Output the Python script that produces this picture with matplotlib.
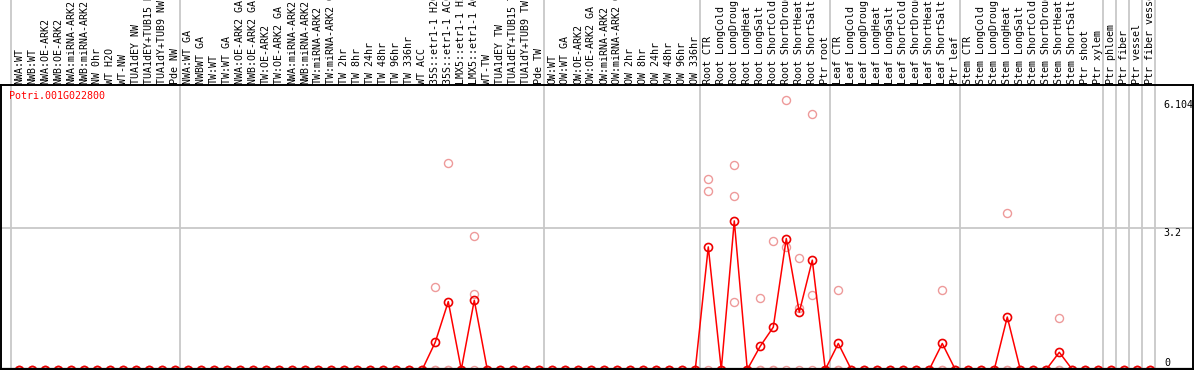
import matplotlib
matplotlib.use("Agg")
import matplotlib.pyplot as plt
import numpy as np

gene = "Potri.001G022800"

categories = [
    # group 1
    "NWA:WT", "NWB:WT", "NWA:OE-ARK2", "NWB:OE-ARK2", "NWA:miRNA-ARK2", "NWB:miRNA-ARK2",
    "NW 0hr", "WT H2O", "WT-NW", "TUA1dEY NW", "TUA1dEY+TUB15 NW", "TUA1dY+TUB9 NW", "Pde NW",
    # group 2
    "NWA:WT GA", "NWBWT GA", "TW:WT", "TW:WT GA", "NWA:OE-ARK2 GA", "NWB:OE-ARK2 GA",
    "TW:OE-ARK2", "TW:OE-ARK2 GA", "NWA:miRNA-ARK2", "NWB:miRNA-ARK2", "TW:miRNA-ARK2",
    "TW:miRNA-ARK2 GA", "TW 2hr", "TW 8hr", "TW 24hr", "TW 48hr", "TW 96hr", "TW 336hr",
    "WT ACC", "35S::etr1-1 H2O", "35S::etr1-1 ACC", "LMX5::etr1-1 H2O", "LMX5::etr1-1 ACC",
    "WT-TW", "TUA1dEY TW", "TUA1dEY+TUB15 TW", "TUA1dY+TUB9 TW", "Pde TW",
    # group 3
    "OW:WT", "OW:WT GA", "OW:OE-ARK2", "OW:OE-ARK2 GA", "OW:miRNA-ARK2", "OW:miRNA-ARK2 GA",
    "OW 2hr", "OW 8hr", "OW 24hr", "OW 48hr", "OW 96hr", "OW 336hr",
    # root
    "Root CTR", "Root LongCold", "Root LongDrought", "Root LongHeat", "Root LongSalt",
    "Root ShortCold", "Root ShortDrought", "Root ShortHeat", "Root ShortSalt", "Ptr root",
    # leaf
    "Leaf CTR", "Leaf LongCold", "Leaf LongDrought", "Leaf LongHeat", "Leaf LongSalt",
    "Leaf ShortCold", "Leaf ShortDrought", "Leaf ShortHeat", "Leaf ShortSalt", "Ptr leaf",
    # stem
    "Stem CTR", "Stem LongCold", "Stem LongDrought", "Stem LongHeat", "Stem LongSalt",
    "Stem ShortCold", "Stem ShortDrought", "Stem ShortHeat", "Stem ShortSalt", "Ptr shoot",
    "Ptr xylem",
    # tissues
    "Ptr phloem", "Ptr fiber", "Ptr vessel", "Ptr fiber vessel",
]

means = [
    0, 0, 0, 0, 0, 0, 0, 0, 0, 0, 0, 0, 0,
    0, 0, 0, 0, 0, 0, 0, 0, 0, 0, 0, 0, 0, 0, 0, 0, 0, 0, 0, 0.62, 1.54, 0, 1.57, 0, 0, 0, 0, 0,
    0, 0, 0, 0, 0, 0, 0, 0, 0, 0, 0, 0,
    2.78, 0, 3.37, 0, 0.53, 0.96, 2.97, 1.30, 2.48, 0,
    0.59, 0, 0, 0, 0, 0, 0, 0, 0.59, 0,
    0, 0, 0, 1.19, 0, 0, 0, 0.39, 0, 0, 0,
    0, 0, 0, 0,
]

rep_a = [
    0, 0, 0, 0, 0, 0, 0, 0, 0, 0, 0, 0, 0,
    0, 0, 0, 0, 0, 0, 0, 0, 0, 0, 0, 0, 0, 0, 0, 0, 0, 0, 0, 1.87, 4.68, 0, 3.02, 0, 0, 0, 0, 0,
    0, 0, 0, 0, 0, 0, 0, 0, 0, 0, 0, 0,
    4.31, 0, 4.63, 0, 1.61, 2.91, 6.104, 2.52, 5.79, 0,
    1.80, 0, 0, 0, 0, 0, 0, 0, 1.80, 0,
    0, 0, 0, 3.56, 0, 0, 0, 1.17, 0, 0, 0,
    0, 0, 0, 0,
]

rep_b = [
    0, 0, 0, 0, 0, 0, 0, 0, 0, 0, 0, 0, 0,
    0, 0, 0, 0, 0, 0, 0, 0, 0, 0, 0, 0, 0, 0, 0, 0, 0, 0, 0, 0, 0, 0, 1.71, 0, 0, 0, 0, 0,
    0, 0, 0, 0, 0, 0, 0, 0, 0, 0, 0, 0,
    4.04, 0, 3.93, 0, 0, 0, 2.78, 1.40, 1.68, 0,
    0, 0, 0, 0, 0, 0, 0, 0, 0, 0,
    0, 0, 0, 0, 0, 0, 0, 0, 0, 0, 0,
    0, 0, 0, 0,
]

rep_c = [
    0, 0, 0, 0, 0, 0, 0, 0, 0, 0, 0, 0, 0,
    0, 0, 0, 0, 0, 0, 0, 0, 0, 0, 0, 0, 0, 0, 0, 0, 0, 0, 0, 0, 0, 0, 0, 0, 0, 0, 0, 0,
    0, 0, 0, 0, 0, 0, 0, 0, 0, 0, 0, 0,
    0, 0, 1.53, 0, 0, 0, 0, 0, 0, 0,
    0, 0, 0, 0, 0, 0, 0, 0, 0, 0,
    0, 0, 0, 0, 0, 0, 0, 0, 0, 0, 0,
    0, 0, 0, 0,
]

group_bounds = [0, 13, 41, 53, 63, 73, 84, 85, 86, 87, 88]
y_max = 6.104
y_mid = 3.2

# ---- layout (pixel geometry) ----
W, H = 1194, 370
fig = plt.figure(figsize=(W / 100, H / 100), dpi=100)
ax = fig.add_axes([0, 0, 1, 1])
ax.set_axis_off()

px_per_cat = 13.0
x_off = 10.7          # pixel x of first group boundary
y_zero_px = 369.5
px_per_unit = 44.1
ax.set_xlim(-x_off / px_per_cat, (W - x_off) / px_per_cat)
ax.set_ylim((y_zero_px - H) / px_per_unit, y_zero_px / px_per_unit)

def vy(py):
    return (y_zero_px - py) / px_per_unit

def ux(px):
    return (px - x_off) / px_per_cat

n = len(categories)
xs = np.arange(n) + 0.66

grey = "#C8C8C8"
for b in group_bounds:
    ax.axvline(b, color=grey, lw=1.3, zorder=1)
ax.axhline(y_mid, color=grey, lw=1.3, zorder=1)

top_line = vy(85)
ax.axhline(top_line, color="black", lw=1.4, zorder=5)
ax.axhline(vy(369.2), color="black", lw=1.6, zorder=5)
ax.plot([ux(1), ux(1)], [vy(369), top_line], color="black", lw=1.4, zorder=5)
ax.plot([ux(1193), ux(1193)], [vy(369), top_line], color="black", lw=1.4, zorder=5)

mono = "DejaVu Sans Mono"
fs = 7.2
for x, lab in zip(xs, categories):
    ax.text(x, vy(84), lab, rotation=90, ha="center", va="bottom",
            fontsize=fs, family=mono, color="black", zorder=6)

# replicates
pink = "#EE9A9A"
for reps in (rep_a, rep_b, rep_c):
    ax.plot(xs, reps, linestyle="none", marker="o", markersize=5.8,
            markerfacecolor="none", markeredgecolor=pink, markeredgewidth=1.0, zorder=3)

# mean line
ax.plot(xs, means, color="#FF0000", lw=1.1, marker="o", markersize=5.8,
        markerfacecolor="none", markeredgecolor="#EE0000", markeredgewidth=1.2, zorder=4)

ax.text(ux(9), vy(96), gene, color="#FF0000", fontsize=fs, family=mono,
        ha="left", va="center", zorder=6)

ax.text(ux(1163), y_max, f"{y_max:g}", fontsize=fs, family=mono, ha="left", va="top")
ax.text(ux(1163), y_mid, f"{y_mid:g}", fontsize=fs, family=mono, ha="left", va="top")
ax.text(ux(1164), vy(366), "0", fontsize=fs, family=mono, ha="left", va="baseline")

fig.savefig("out.png", dpi=100)
